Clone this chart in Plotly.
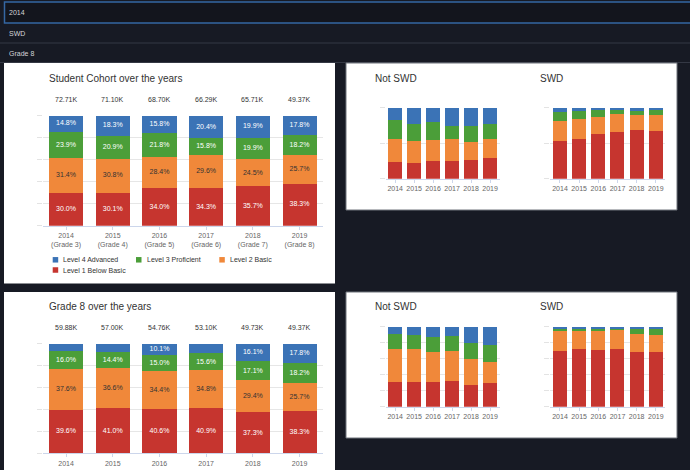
import plotly.graph_objects as go

W, H = 690, 470
FONT = "Liberation Sans, Arial, sans-serif"

# ---------------- data ----------------
years = ["2014", "2015", "2016", "2017", "2018", "2019"]
cohort_grades = ["Grade 3", "Grade 4", "Grade 5", "Grade 6", "Grade 7", "Grade 8"]
levels = ["Level 4 Advanced", "Level 3 Proficient", "Level 2 Basic", "Level 1 Below Basic"]
level_colors = ["#3b73b6", "#4b9e39", "#f0883a", "#c6352f"]
label_colors = ["#ffffff", "#ffffff", "#333333", "#ffffff"]

# Student cohort (percent)
cohort_l4 = [14.8, 18.3, 15.8, 20.4, 19.9, 17.8]
cohort_l3 = [23.9, 20.9, 21.8, 15.8, 19.9, 18.2]
cohort_l2 = [31.4, 30.8, 28.4, 29.6, 24.5, 25.7]
cohort_l1 = [30.0, 30.1, 34.0, 34.3, 35.7, 38.3]
cohort_totals_k = [72.71, 71.10, 68.70, 66.29, 65.71, 49.37]

# Cohort split: Not SWD / SWD (percent, estimated)
cohort_notswd_l4 = [17.4, 22.5, 19.7, 25.4, 25.4, 22.5]
cohort_notswd_l3 = [26.8, 24.0, 25.4, 18.8, 22.5, 21.1]
cohort_notswd_l2 = [32.0, 31.4, 29.6, 30.5, 25.8, 27.2]
cohort_notswd_l1 = [23.9, 22.1, 25.4, 25.4, 26.3, 29.1]
cohort_swd_l4 = [5.6, 4.7, 3.3, 2.8, 2.8, 2.8]
cohort_swd_l3 = [13.1, 10.8, 9.9, 5.6, 7.5, 7.5]
cohort_swd_l2 = [28.6, 28.2, 24.4, 25.4, 21.1, 22.1]
cohort_swd_l1 = [52.6, 56.3, 62.4, 66.2, 68.5, 67.6]

# Grade 8 over the years (percent)
g8_l4 = [6.8, 8.0, 10.1, 8.7, 16.1, 17.8]
g8_l3 = [16.0, 14.4, 15.0, 15.6, 17.1, 18.2]
g8_l2 = [37.6, 36.6, 34.4, 34.8, 29.4, 25.7]
g8_l1 = [39.6, 41.0, 40.6, 40.9, 37.3, 38.3]
g8_totals_k = [59.88, 57.00, 54.76, 53.10, 49.73, 49.37]

# Grade 8 split: Not SWD / SWD (percent, estimated)
g8_notswd_l4 = [9.2, 10.4, 12.5, 11.7, 20.4, 22.5]
g8_notswd_l3 = [18.3, 17.1, 19.2, 18.3, 20.4, 21.2]
g8_notswd_l2 = [41.2, 41.2, 37.0, 37.9, 31.7, 27.1]
g8_notswd_l1 = [31.3, 31.3, 31.3, 32.1, 27.5, 29.2]
g8_swd_l4 = [1.7, 1.7, 1.7, 1.7, 2.5, 2.1]
g8_swd_l3 = [3.3, 3.3, 3.3, 2.9, 6.2, 8.7]
g8_swd_l2 = [25.4, 22.5, 23.7, 22.9, 22.5, 21.3]
g8_swd_l1 = [69.6, 72.5, 71.3, 72.5, 68.8, 67.9]

dropdown_values = ["2014", "SWD", "Grade 8"]

# ---------------- helpers ----------------
def fx(p):
    return p / W


def fy(p):
    return 1 - p / H


def ax_id(i):
    return "" if i == 1 else str(i)


fig = go.Figure()


def add_stack(idx, series, labelled):
    # series given top->bottom (L4, L3, L2, L1); draw bottom first
    xa, ya = "x" + ax_id(idx), "y" + ax_id(idx)
    base = [0.0] * len(years)
    label_traces = []
    for k in [3, 2, 1, 0]:
        vals = series[k]
        fig.add_trace(go.Bar(
            x=years, y=vals, name=levels[k],
            marker=dict(color=level_colors[k], line=dict(width=0)),
            textposition="none",
            xaxis=xa, yaxis=ya, showlegend=False, hoverinfo="skip",
        ))
        if labelled:
            mids = [b + v / 2 for b, v in zip(base, vals)]
            txt = [f"{v:.1f}%" if v >= 10 else "" for v in vals]
            label_traces.append(go.Scatter(
                x=years, y=mids, mode="text", text=txt, textposition="middle center",
                textfont=dict(color=label_colors[k], size=7, family=FONT),
                xaxis=xa, yaxis=ya, showlegend=False, hoverinfo="skip", cliponaxis=False,
            ))
        base = [b + v for b, v in zip(base, vals)]
    for t in label_traces:
        fig.add_trace(t)


add_stack(1, [cohort_l4, cohort_l3, cohort_l2, cohort_l1], True)
add_stack(2, [cohort_notswd_l4, cohort_notswd_l3, cohort_notswd_l2, cohort_notswd_l1], False)
add_stack(3, [cohort_swd_l4, cohort_swd_l3, cohort_swd_l2, cohort_swd_l1], False)
add_stack(4, [g8_l4, g8_l3, g8_l2, g8_l1], True)
add_stack(5, [g8_notswd_l4, g8_notswd_l3, g8_notswd_l2, g8_notswd_l1], False)
add_stack(6, [g8_swd_l4, g8_swd_l3, g8_swd_l2, g8_swd_l1], False)

# subplot domains in pixels
big_x = (42.7, 322.9)
nsw_x = (385.7, 499.5)
swd_x = (550.4, 665.4)
subplots = {
    1: (big_x, (115.7, 225.7), 20, [f"{y}<br>({g})" for y, g in zip(years, cohort_grades)]),
    2: (nsw_x, (107.7, 178.7), 50, years),
    3: (swd_x, (107.7, 178.7), 50, years),
    4: (big_x, (343.7, 453.3), 20, years),
    5: (nsw_x, (326.7, 406.7), 20, years),
    6: (swd_x, (326.7, 406.7), 20, years),
}

layout = dict(
    template="none",
    width=W, height=H, autosize=False, margin=dict(l=0, r=0, t=0, b=0, pad=0),
    paper_bgcolor="#171a24", plot_bgcolor="rgba(0,0,0,0)",
    barmode="stack", bargap=0.27, showlegend=False,
    font=dict(family=FONT, color="#333333"),
)
for i, ((x0, x1), (yt, yb), dt, ttext) in subplots.items():
    layout["xaxis" + ax_id(i)] = dict(
        domain=[fx(x0), fx(x1)], anchor="y" + ax_id(i), type="category",
        categoryorder="array", categoryarray=years,
        range=[-0.5, len(years) - 0.5], autorange=False,
        tickmode="array", tickvals=years, ticktext=ttext, tickangle=0,
        tickfont=dict(size=7, color="#666666", family=FONT),
        showline=True, linecolor="#ccd6eb", linewidth=1,
        ticks="outside", ticklen=3, tickcolor="#ccd6eb",
        showgrid=False, zeroline=False, fixedrange=True, automargin=False,
    )
    layout["yaxis" + ax_id(i)] = dict(
        domain=[fy(yb), fy(yt)], anchor="x" + ax_id(i), range=[0, 100], autorange=False,
        tickmode="linear", tick0=0, dtick=dt, showticklabels=False, showgrid=True,
        gridcolor="#e6e6e6", gridwidth=1, zeroline=False, showline=False,
        ticks="outside", ticklen=5, tickcolor="#e3e3e3",
        fixedrange=True, automargin=False,
    )
fig.update_layout(**layout)

shapes = []
annotations = []

# dropdown bars
shapes.append(dict(type="rect", xref="paper", yref="paper", x0=fx(4.5), x1=fx(694),
                   y0=fy(23), y1=fy(2), fillcolor="#13151d",
                   line=dict(color="#3567a3", width=1.5), layer="below"))
for yy in [43, 62.5]:
    shapes.append(dict(type="line", xref="paper", yref="paper", x0=fx(0), x1=fx(690),
                       y0=fy(yy), y1=fy(yy), line=dict(color="#343844", width=1), layer="below"))
for txt, yy in zip(dropdown_values, [12.5, 33, 53]):
    annotations.append(dict(text=txt, xref="paper", yref="paper", x=fx(7), y=fy(yy),
                            xanchor="left", yanchor="middle", showarrow=False,
                            font=dict(size=7, color="#d4d4d8", family=FONT)))

# white panels
panels = [
    ((4, 335), (63, 283.5), None),
    ((346, 677), (63, 210), "#6f727a"),
    ((4, 335), (292, 480), None),
    ((346, 677), (292, 438), "#6f727a"),
]
for (x0, x1), (y0, y1), lc in panels:
    shapes.append(dict(type="rect", xref="paper", yref="paper", x0=fx(x0), x1=fx(x1),
                       y0=fy(y1), y1=fy(y0), fillcolor="#ffffff",
                       line=dict(color=lc, width=1) if lc else dict(width=0), layer="below"))

# titles
titles = [
    ("Student Cohort over the years", 47, 78),
    ("Not SWD", 373, 78),
    ("SWD", 538, 78),
    ("Grade 8 over the years", 47, 306.7),
    ("Not SWD", 373, 306.7),
    ("SWD", 538, 306.7),
]
for txt, xx, yy in titles:
    annotations.append(dict(text=txt, xref="paper", yref="paper", x=fx(xx), y=fy(yy),
                            xanchor="left", yanchor="middle", showarrow=False,
                            font=dict(size=10, color="#333333", family=FONT)))

# totals above the bars (x given as category index on the category axis)
for idx, totals, shift in [(1, cohort_totals_k, 16.7), (4, g8_totals_k, 16.4)]:
    for ci, t in enumerate(totals):
        annotations.append(dict(text=f"{t:.2f}K", xref="x" + ax_id(idx), yref="y" + ax_id(idx),
                                x=ci, y=100, yanchor="middle", yshift=shift,
                                showarrow=False,
                                font=dict(size=7, color="#333333", family=FONT)))

# legend (panel 1)
legend_pos = [(52.7, 259.8), (136, 259.8), (219.3, 259.8), (52.7, 270)]
for k, (lx, ly) in enumerate(legend_pos):
    shapes.append(dict(type="rect", xref="paper", yref="paper",
                       x0=fx(lx), x1=fx(lx + 5.5), y0=fy(ly + 2.75), y1=fy(ly - 2.75),
                       fillcolor=level_colors[k], line=dict(width=0)))
    annotations.append(dict(text=levels[k], xref="paper", yref="paper",
                            x=fx(lx + 8.5), y=fy(ly), xanchor="left", yanchor="middle",
                            showarrow=False,
                            font=dict(size=7, color="#333333", family=FONT)))

fig.update_layout(shapes=shapes, annotations=annotations)
fig.write_html("out.html")
